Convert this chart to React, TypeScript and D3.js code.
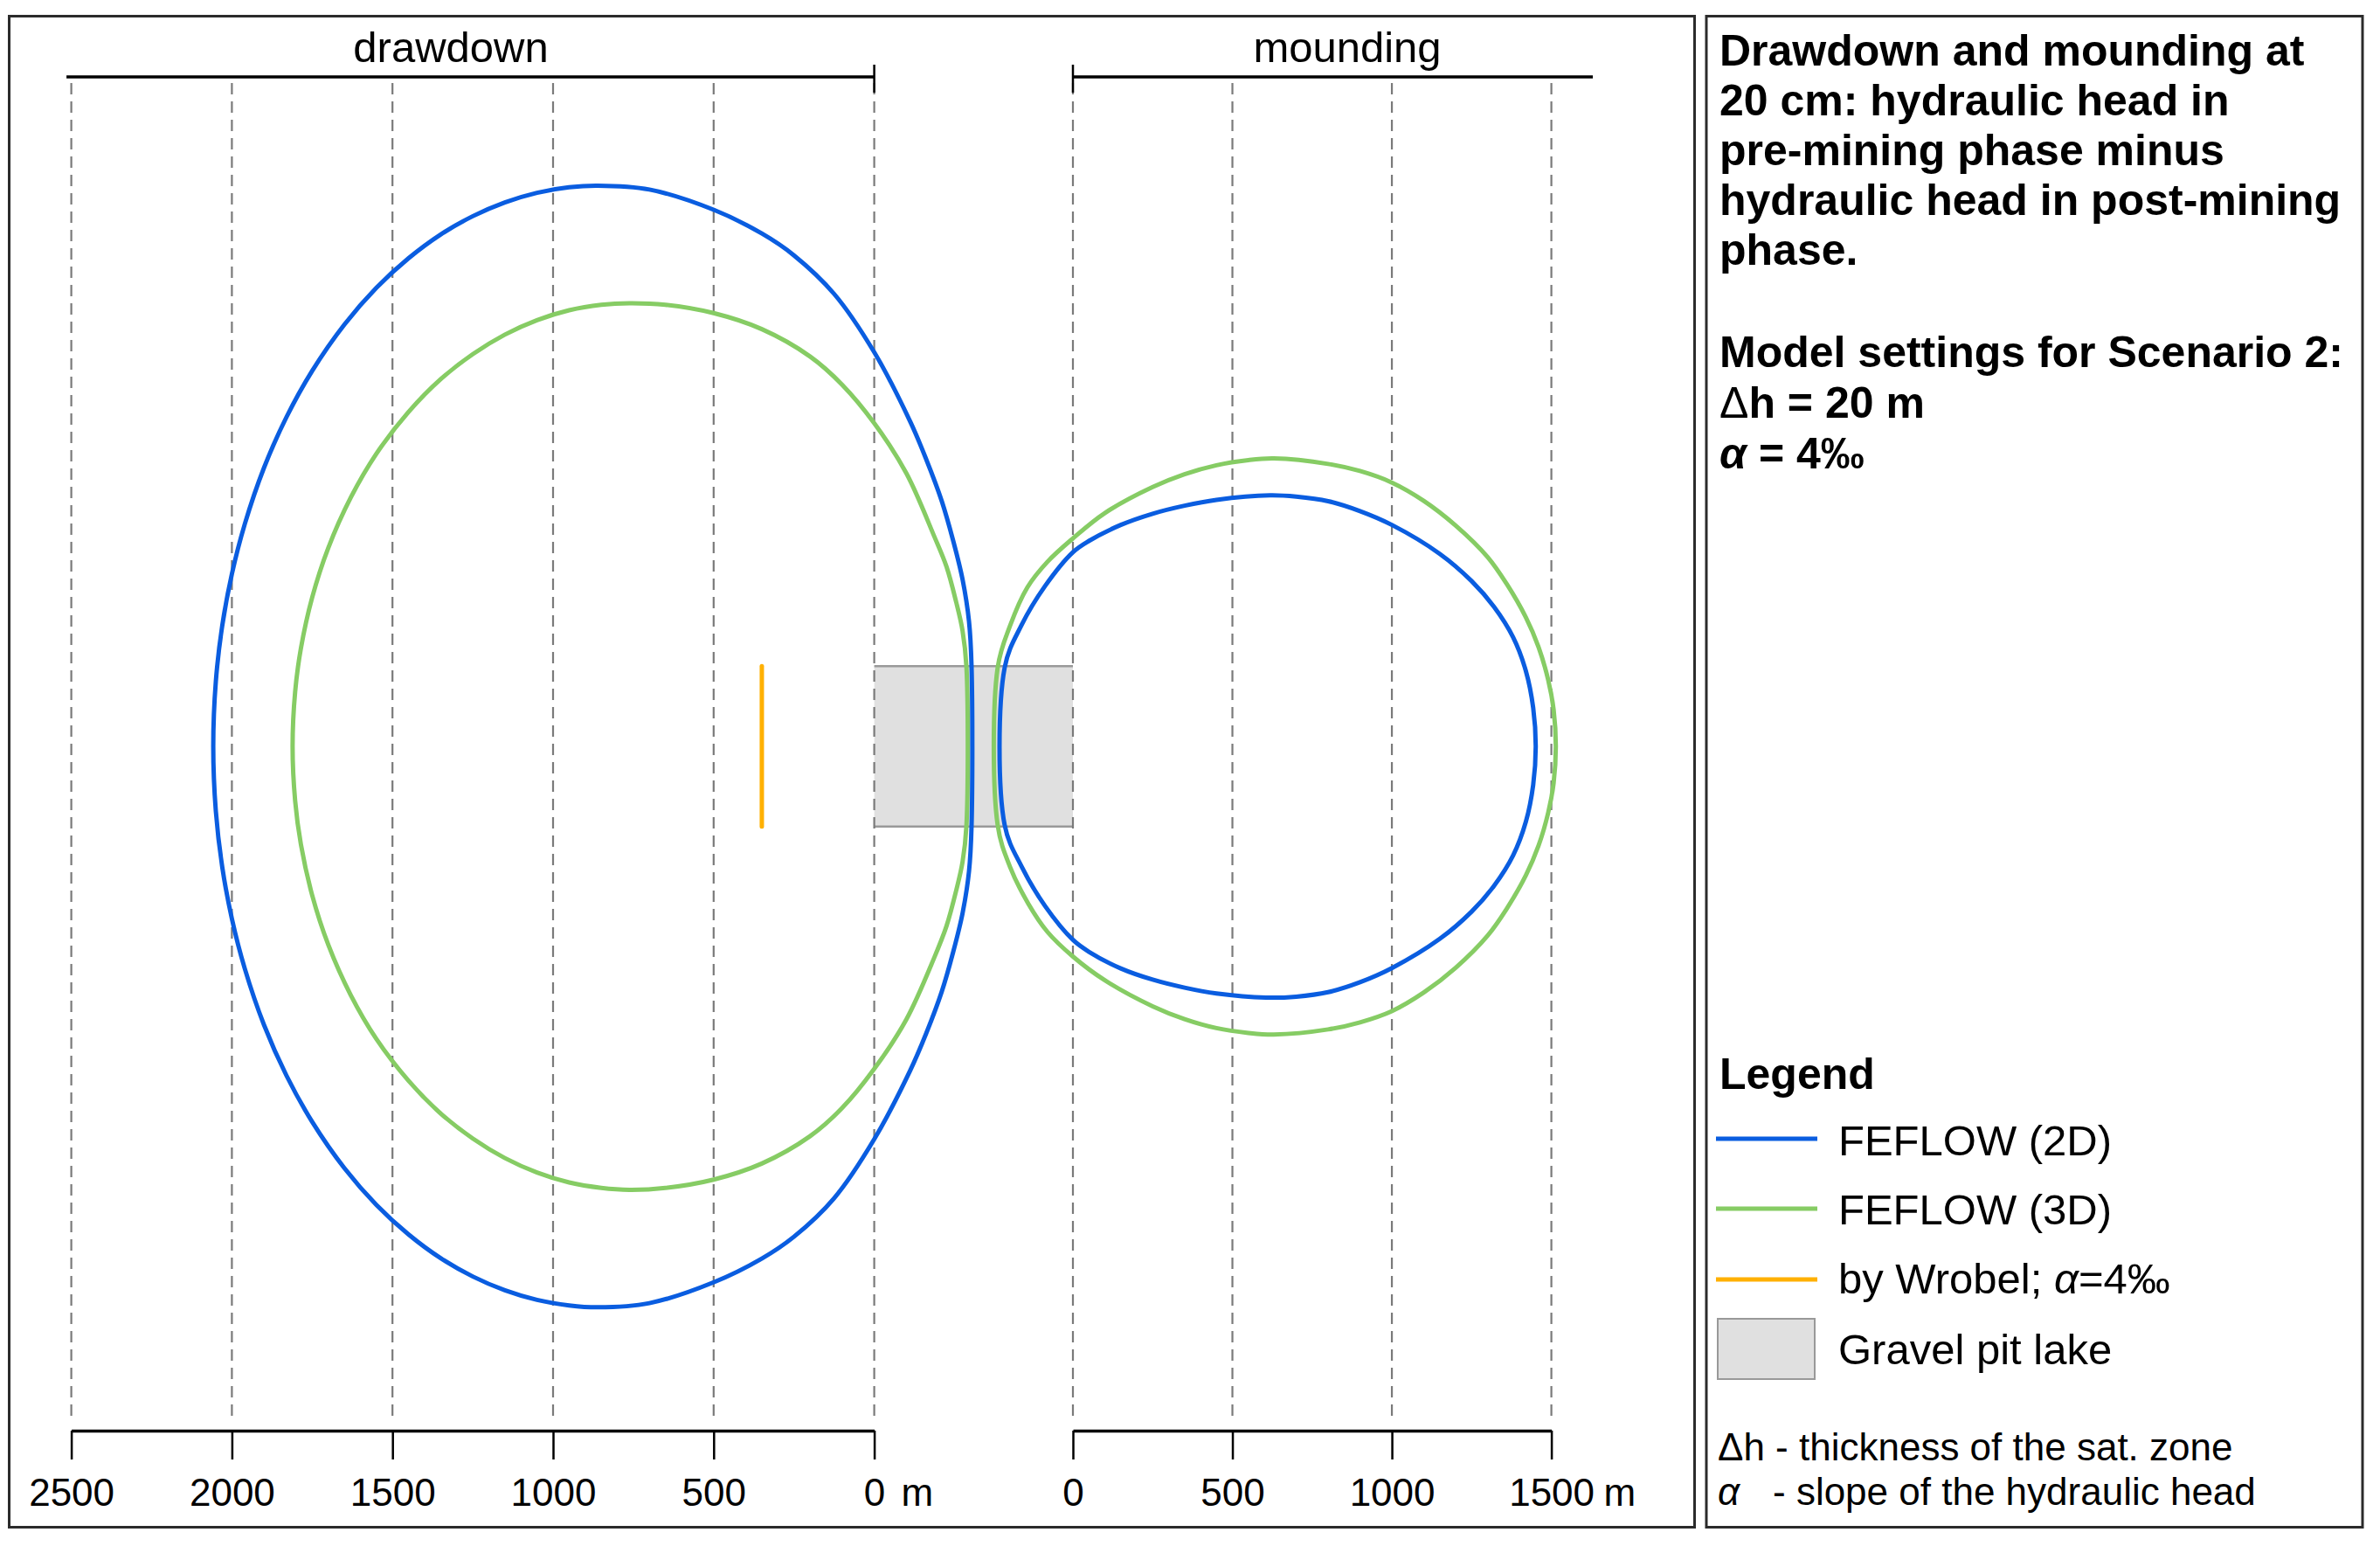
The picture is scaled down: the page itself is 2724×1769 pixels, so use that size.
import { useRef, useEffect } from "react";
import * as d3 from "d3";

// distances in metres, measured from the lake edge (drawdown to the left, mounding to the right)
const drawdownTicks = [2500, 2000, 1500, 1000, 500, 0];
const moundingTicks = [0, 500, 1000, 1500];
const drawdownSpan = [2515, 0];
const moundingSpan = [0, 1630];
const lakeExtent = [-250, 250]; // across the flow direction, m
const wrobelDrawdown = 350;

// 20 cm contours: [distance from lake edge (m), offset from lake axis (m)]
const feflow2dDrawdown: [number, number][] = [
  [-303, -248], [-295, -390], [-275, -520], [-246, -640], [-210, -765], [-162, -894],
  [-112, -1012], [0, -1228], [125, -1410], [250, -1530], [350, -1598], [500, -1672],
  [700, -1735], [861, -1747], [950, -1742], [1050, -1725], [1150, -1695], [1250, -1652],
  [1350, -1595], [1450, -1521], [1550, -1429], [1650, -1314], [1750, -1170], [1830, -1026],
  [1900, -868], [1960, -692], [2000, -537], [2030, -376], [2050, -202], [2058, 0],
  [2050, 202], [2030, 376], [2000, 537], [1960, 692], [1900, 868], [1830, 1026],
  [1750, 1170], [1650, 1314], [1550, 1429], [1450, 1521], [1350, 1595], [1250, 1652],
  [1150, 1695], [1050, 1725], [950, 1742], [861, 1748], [700, 1735], [500, 1670],
  [350, 1596], [250, 1528], [125, 1408], [0, 1224], [-112, 1010], [-162, 894],
  [-210, 765], [-246, 640], [-275, 520], [-295, 390], [-303, 248],
];
const feflow3dDrawdown: [number, number][] = [
  [-287, -248], [-275, -360], [-255, -450], [-225, -560], [-187, -654], [-100, -851],
  [0, -1007], [100, -1127], [200, -1215], [350, -1300], [500, -1350], [650, -1376],
  [762, -1381], [850, -1376], [950, -1359], [1050, -1328], [1150, -1283], [1250, -1222],
  [1350, -1144], [1450, -1042], [1550, -912], [1630, -775], [1700, -618], [1750, -464],
  [1785, -306], [1803, -170], [1811, 0],
  [1803, 170], [1785, 306], [1750, 464], [1700, 618], [1630, 775], [1550, 912],
  [1450, 1042], [1350, 1144], [1250, 1222], [1150, 1283], [1050, 1328], [950, 1359],
  [850, 1376], [762, 1382], [650, 1376], [500, 1350], [350, 1300], [200, 1215],
  [100, 1127], [0, 1005], [-100, 851], [-187, 658], [-225, 560], [-255, 450],
  [-275, 360], [-287, 248],
];
const feflow2dMounding: [number, number][] = [
  [-214, -245], [-162, -376], [-87, -500], [0, -605], [50, -640], [150, -690],
  [250, -725], [350, -750], [450, -768], [618, -782], [700, -778], [800, -764],
  [900, -733], [1000, -690], [1150, -600], [1250, -515], [1320, -435], [1380, -340],
  [1420, -235], [1443, -120], [1451, 0],
  [1443, 120], [1420, 235], [1380, 340], [1320, 435], [1250, 515], [1150, 600],
  [1000, 691], [900, 735], [800, 766], [700, 780], [605, 783], [450, 770],
  [350, 752], [250, 727], [150, 692], [50, 640], [0, 603], [-87, 498],
  [-160, 376], [-214, 245],
];
const feflow3dMounding: [number, number][] = [
  [-236, -245], [-197, -376], [-143, -495], [-80, -575], [0, -648], [100, -727],
  [250, -808], [350, -848], [450, -876], [550, -892], [630, -897], [800, -880],
  [900, -858], [1000, -822], [1100, -765], [1200, -688], [1300, -590], [1360, -506],
  [1420, -402], [1460, -309], [1490, -207], [1507, -115], [1514, 0],
  [1507, 115], [1490, 207], [1460, 309], [1420, 402], [1360, 506], [1300, 590],
  [1200, 690], [1100, 767], [1000, 825], [900, 860], [800, 882], [630, 898],
  [550, 893], [450, 878], [350, 850], [250, 810], [100, 729], [0, 655],
  [-80, 578], [-140, 490], [-197, 376], [-236, 245],
];

const titleLines = [
  "Drawdown and mounding at",
  "20 cm: hydraulic head in",
  "pre-mining phase minus",
  "hydraulic head in post-mining",
  "phase.",
];

const W = 2724;
const H = 1769;
const FONT = "'Liberation Sans', Arial, Helvetica, sans-serif";
const BLUE = "#0a5de0";
const GREEN = "#86cc64";
const ORANGE = "#ffb000";
const LAKE = "#e0e0e0";

const App = () => {
  const svgRef = useRef<SVGSVGElement>(null);

  useEffect(() => {
    const svg = d3.select(svgRef.current);
    svg.selectAll("*").remove();

    const xLeft = d3.scaleLinear().domain([2500, 0]).range([81.6, 1000.6]);
    const xRight = d3.scaleLinear().domain([0, 1500]).range([1228, 1775.6]);
    const y = d3.scaleLinear().domain(lakeExtent).range([762.2, 945.8]);

    svg.append("rect").attr("width", W).attr("height", H).attr("fill", "#fff");

    // frames
    svg.append("rect")
      .attr("x", 10.5).attr("y", 18.5).attr("width", 1929).attr("height", 1729)
      .attr("fill", "none").attr("stroke", "#2b2b2b").attr("stroke-width", 3);
    svg.append("rect")
      .attr("x", 1953).attr("y", 18.5).attr("width", 751).attr("height", 1729)
      .attr("fill", "none").attr("stroke", "#2b2b2b").attr("stroke-width", 3);

    // gravel pit lake
    svg.append("rect")
      .attr("x", xLeft(0)).attr("y", y(lakeExtent[0]))
      .attr("width", xRight(0) - xLeft(0)).attr("height", y(lakeExtent[1]) - y(lakeExtent[0]))
      .attr("fill", LAKE);
    svg.selectAll(".lake-edge")
      .data(lakeExtent)
      .join("line")
      .attr("class", "lake-edge")
      .attr("x1", xLeft(0)).attr("x2", xRight(0))
      .attr("y1", d => y(d)).attr("y2", d => y(d))
      .attr("stroke", "#999").attr("stroke-width", 2.5);

    // dashed grid lines
    const gridX = [...drawdownTicks.map(t => xLeft(t)), ...moundingTicks.map(t => xRight(t))];
    svg.selectAll(".grid")
      .data(gridX)
      .join("line")
      .attr("class", "grid")
      .attr("x1", d => d).attr("x2", d => d)
      .attr("y1", 95).attr("y2", 1625)
      .attr("stroke", "#7a7a7a").attr("stroke-width", 2.2)
      .attr("stroke-dasharray", "13 8");

    // header bars
    const bar = (x1: number, x2: number, tickX: number) => {
      svg.append("line").attr("x1", x1).attr("x2", x2).attr("y1", 88).attr("y2", 88)
        .attr("stroke", "#000").attr("stroke-width", 3.5);
      svg.append("line").attr("x1", tickX).attr("x2", tickX).attr("y1", 74).attr("y2", 106)
        .attr("stroke", "#000").attr("stroke-width", 2.5);
    };
    bar(xLeft(drawdownSpan[0]), xLeft(drawdownSpan[1]), xLeft(0));
    bar(xRight(moundingSpan[0]), xRight(moundingSpan[1]), xRight(0));

    svg.append("text").attr("x", 516).attr("y", 71).attr("text-anchor", "middle")
      .attr("font-family", FONT).attr("font-size", 49).text("drawdown");
    svg.append("text").attr("x", 1542).attr("y", 71).attr("text-anchor", "middle")
      .attr("font-family", FONT).attr("font-size", 49).text("mounding");

    // bottom scale bars
    const styleAxis = (g: any) => {
      g.attr("font-family", FONT).attr("font-size", 44);
      g.select(".domain").attr("stroke", "#000").attr("stroke-width", 3.5);
      g.selectAll(".tick line").attr("stroke", "#000").attr("stroke-width", 2.5);
      g.selectAll(".tick text").attr("fill", "#000");
    };
    svg.append("g").attr("transform", "translate(0,1637)")
      .call(d3.axisBottom(xLeft).tickValues(drawdownTicks).tickSizeInner(33)
        .tickSizeOuter(0).tickPadding(22).tickFormat(d3.format("d")))
      .call(styleAxis);
    svg.append("g").attr("transform", "translate(0,1637)")
      .call(d3.axisBottom(xRight).tickValues(moundingTicks).tickSizeInner(33)
        .tickSizeOuter(0).tickPadding(22).tickFormat(d3.format("d")))
      .call(styleAxis);
    svg.append("text").attr("x", xLeft(0) + 31).attr("y", 1723)
      .attr("font-family", FONT).attr("font-size", 44).text("m");
    svg.append("text").attr("x", xRight(1500) + 60).attr("y", 1723)
      .attr("font-family", FONT).attr("font-size", 44).text("m");

    // contours
    const lineLeft = d3.line<[number, number]>()
      .x(d => xLeft(d[0])).y(d => y(d[1]))
      .curve(d3.curveCatmullRomClosed.alpha(0.5));
    const lineRight = d3.line<[number, number]>()
      .x(d => xRight(d[0])).y(d => y(d[1]))
      .curve(d3.curveCatmullRomClosed.alpha(0.5));

    const contours = [
      { pts: feflow3dDrawdown, gen: lineLeft, color: GREEN },
      { pts: feflow2dDrawdown, gen: lineLeft, color: BLUE },
      { pts: feflow3dMounding, gen: lineRight, color: GREEN },
      { pts: feflow2dMounding, gen: lineRight, color: BLUE },
    ];
    svg.selectAll(".contour")
      .data(contours)
      .join("path")
      .attr("class", "contour")
      .attr("d", d => d.gen(d.pts))
      .attr("fill", "none")
      .attr("stroke", d => d.color)
      .attr("stroke-width", 5)
      .attr("stroke-linejoin", "round");

    // Wrobel drawdown
    svg.append("line")
      .attr("x1", xLeft(wrobelDrawdown)).attr("x2", xLeft(wrobelDrawdown))
      .attr("y1", y(lakeExtent[0])).attr("y2", y(lakeExtent[1]))
      .attr("stroke", ORANGE).attr("stroke-width", 5).attr("stroke-linecap", "round");

    // right panel: description
    const px = 1968;
    svg.selectAll(".title")
      .data(titleLines)
      .join("text")
      .attr("class", "title")
      .attr("x", px).attr("y", (_, i) => 75 + i * 57)
      .attr("font-family", FONT).attr("font-size", 50).attr("font-weight", "bold")
      .text(d => d);

    svg.append("text").attr("x", px).attr("y", 420)
      .attr("font-family", FONT).attr("font-size", 50).attr("font-weight", "bold")
      .text("Model settings for Scenario 2:");
    const dh = svg.append("text").attr("x", px).attr("y", 478)
      .attr("font-family", FONT).attr("font-size", 50).attr("font-weight", "bold");
    dh.append("tspan").attr("font-weight", "normal").text("Δ");
    dh.append("tspan").text("h = 20 m");
    const al = svg.append("text").attr("x", px).attr("y", 536)
      .attr("font-family", FONT).attr("font-size", 50).attr("font-weight", "bold");
    al.append("tspan").attr("font-style", "italic").text("α");
    al.append("tspan").text(" = 4‰");

    // legend
    svg.append("text").attr("x", px).attr("y", 1246)
      .attr("font-family", FONT).attr("font-size", 50).attr("font-weight", "bold")
      .text("Legend");

    const legendLines = [
      { color: BLUE, y: 1303 },
      { color: GREEN, y: 1383 },
      { color: ORANGE, y: 1464 },
    ];
    legendLines.forEach(l => {
      svg.append("line").attr("x1", 1964).attr("x2", 2080).attr("y1", l.y).attr("y2", l.y)
        .attr("stroke", l.color).attr("stroke-width", 5);
    });
    svg.append("text").attr("x", 2104).attr("y", 1322)
      .attr("font-family", FONT).attr("font-size", 49).text("FEFLOW (2D)");
    svg.append("text").attr("x", 2104).attr("y", 1401)
      .attr("font-family", FONT).attr("font-size", 49).text("FEFLOW (3D)");
    const wr = svg.append("text").attr("x", 2104).attr("y", 1480)
      .attr("font-family", FONT).attr("font-size", 49);
    wr.append("tspan").text("by Wrobel; ");
    wr.append("tspan").attr("font-style", "italic").text("α");
    wr.append("tspan").text("=4‰");

    svg.append("rect").attr("x", 1966).attr("y", 1509).attr("width", 111).attr("height", 69)
      .attr("fill", LAKE).attr("stroke", "#999").attr("stroke-width", 2);
    svg.append("text").attr("x", 2104).attr("y", 1561)
      .attr("font-family", FONT).attr("font-size", 49).text("Gravel pit lake");

    // footnotes
    svg.append("text").attr("x", 1966).attr("y", 1671)
      .attr("font-family", FONT).attr("font-size", 44)
      .text("Δh - thickness of the sat. zone");
    svg.append("text").attr("x", 1966).attr("y", 1722)
      .attr("font-family", FONT).attr("font-size", 44).attr("font-style", "italic")
      .text("α");
    svg.append("text").attr("x", 2029).attr("y", 1722)
      .attr("font-family", FONT).attr("font-size", 44)
      .text("- slope of the hydraulic head");
  }, []);

  return (
    <div style={{ position: "absolute", left: 0, top: 0, background: "#fff" }}>
      <svg ref={svgRef} width={W} height={H} style={{ display: "block" }} />
    </div>
  );
};

export default App;
